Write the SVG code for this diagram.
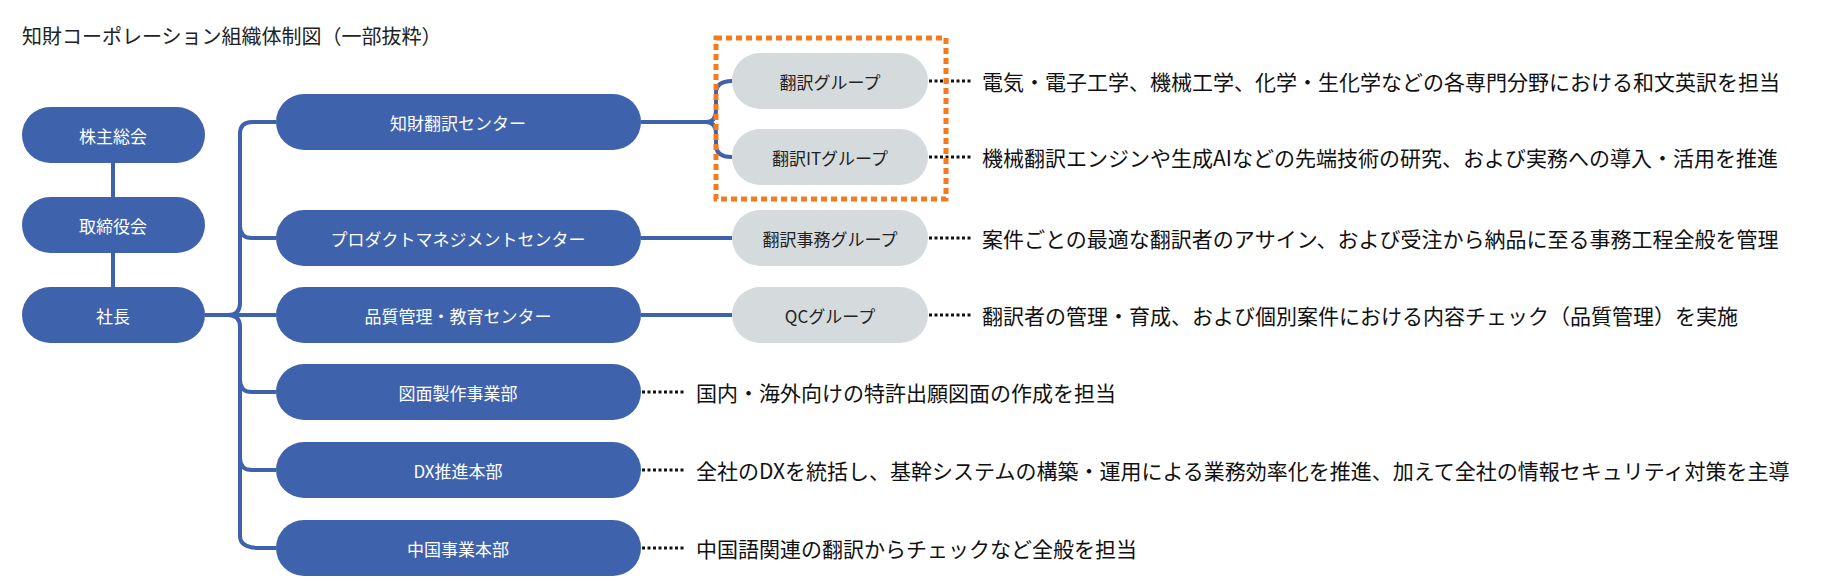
<svg xmlns="http://www.w3.org/2000/svg" width="1847" height="581" viewBox="0 0 1847 581">
<style>
text{font-family:"Noto Sans CJK JP","Noto Sans",sans-serif}
.b{fill:#3f62ad}
.g{fill:#d5dadd}
.bt{fill:#fff;font-size:17px;text-anchor:middle;dominant-baseline:central}
.gt{fill:#222;font-size:17px;text-anchor:middle;dominant-baseline:central}
.d{fill:#111;font-size:21px;dominant-baseline:central}
.c{fill:none;stroke:#3f62ad;stroke-width:4}
.dot{fill:none;stroke:#111;stroke-width:3;stroke-dasharray:3 2.5}
</style>
<rect width="1847" height="581" fill="#fff"/>
<text x="22" y="35" font-size="20" fill="#222" dominant-baseline="central">知財コーポレーション組織体制図（一部抜粋）</text>
<g id="connectors">
<path class="c" d="M113 163V197M113 253V287"/>
<path class="c" d="M205 315H228Q240 315 240 303V134Q240 122 252 122H276"/>
<path class="c" d="M240 226Q240 238 252 238H276M228 315H276M228 315Q240 315 240 327V380Q240 392 252 392H276M240 380V458Q240 470 252 470H276M240 458V536Q240 548 260 548H276"/>
<path class="c" d="M641 122H706Q716 122 716 110V93Q716 81 732 81M706 122Q716 122 716 134V145Q716 157 732 157"/>
<path class="c" d="M641 238H732M641 315H732"/>
<path class="dot" d="M929 81H972M929 157H972M929 238H972M929 315H972M642 392H686M642 470H686M642 548H686"/>
</g>
<rect x="716" y="38" width="230" height="161" fill="none" stroke="#f47a20" stroke-width="5" stroke-dasharray="6 4"/>
<g id="n1"><rect class="b" x="22" y="107" width="183" height="56" rx="28"/><text class="bt" x="113" y="135">株主総会</text></g>
<g id="n2"><rect class="b" x="22" y="197" width="183" height="56" rx="28"/><text class="bt" x="113" y="225">取締役会</text></g>
<g id="n3"><rect class="b" x="22" y="287" width="183" height="56" rx="28"/><text class="bt" x="113" y="315">社長</text></g>
<g id="c1"><rect class="b" x="276" y="94" width="365" height="56" rx="28"/><text class="bt" x="458" y="122">知財翻訳センター</text></g>
<g id="c2"><rect class="b" x="276" y="210" width="365" height="56" rx="28"/><text class="bt" x="458" y="238">プロダクトマネジメントセンター</text></g>
<g id="c3"><rect class="b" x="276" y="287" width="365" height="56" rx="28"/><text class="bt" x="458" y="315">品質管理・教育センター</text></g>
<g id="c4"><rect class="b" x="276" y="364" width="365" height="56" rx="28"/><text class="bt" x="458" y="392">図面製作事業部</text><text class="d" x="696" y="392">国内・海外向けの特許出願図面の作成を担当</text></g>
<g id="c5"><rect class="b" x="276" y="442" width="365" height="56" rx="28"/><text class="bt" x="458" y="470">DX推進本部</text><text class="d" x="696" y="470">全社のDXを統括し、基幹システムの構築・運用による業務効率化を推進、加えて全社の情報セキュリティ対策を主導</text></g>
<g id="c6"><rect class="b" x="276" y="520" width="365" height="56" rx="28"/><text class="bt" x="458" y="548">中国事業本部</text><text class="d" x="696" y="548">中国語関連の翻訳からチェックなど全般を担当</text></g>
<g id="g1"><rect class="g" x="732" y="53" width="196" height="56" rx="28"/><text class="gt" x="830" y="81">翻訳グループ</text><text class="d" x="982" y="81">電気・電子工学、機械工学、化学・生化学などの各専門分野における和文英訳を担当</text></g>
<g id="g2"><rect class="g" x="732" y="129" width="196" height="56" rx="28"/><text class="gt" x="830" y="157">翻訳ITグループ</text><text class="d" x="982" y="157">機械翻訳エンジンや生成AIなどの先端技術の研究、および実務への導入・活用を推進</text></g>
<g id="g3"><rect class="g" x="732" y="210" width="196" height="56" rx="28"/><text class="gt" x="830" y="238">翻訳事務グループ</text><text class="d" x="982" y="238">案件ごとの最適な翻訳者のアサイン、および受注から納品に至る事務工程全般を管理</text></g>
<g id="g4"><rect class="g" x="732" y="287" width="196" height="56" rx="28"/><text class="gt" x="830" y="315">QCグループ</text><text class="d" x="982" y="315">翻訳者の管理・育成、および個別案件における内容チェック（品質管理）を実施</text></g>
</svg>
